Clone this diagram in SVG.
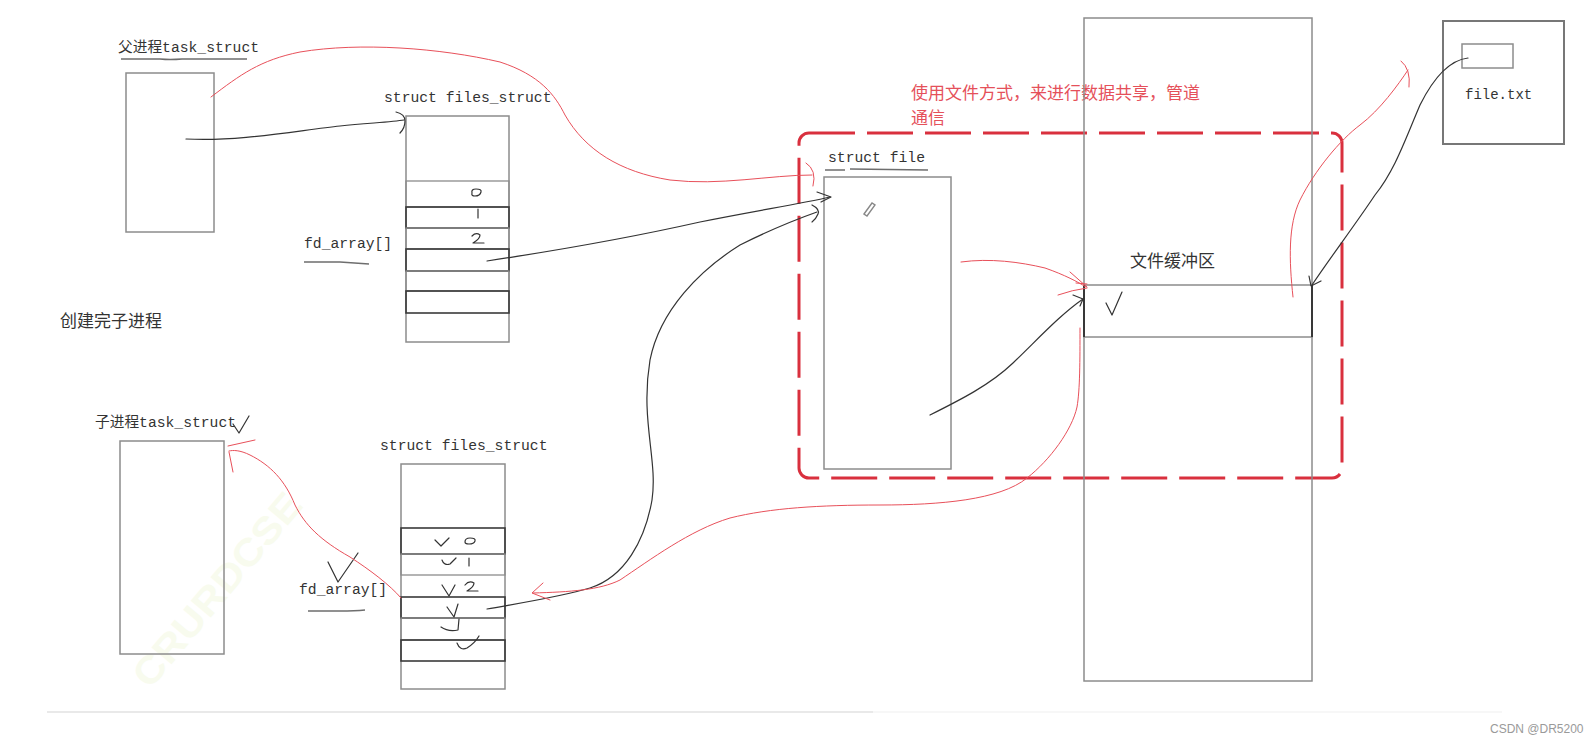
<svg xmlns="http://www.w3.org/2000/svg" width="1590" height="745" viewBox="0 0 1590 745">
<defs>
<style>
.bg{fill:#ffffff}
.box{fill:none;stroke:#8c8c8c;stroke-width:1.5}
.row{fill:none;stroke:#8c8c8c;stroke-width:1.3}
.rowd{fill:none;stroke:#3a3a3a;stroke-width:1.6}
.lbl{font-family:"Liberation Mono","Noto Sans CJK SC",monospace;font-size:14.7px;fill:#333}
.cjk{font-family:"Noto Sans CJK SC","Noto Sans",sans-serif;font-size:17px;fill:#333}
.note{font-family:"Noto Sans CJK SC","Noto Sans",sans-serif;font-size:17px;fill:#e5505a}
.ul{fill:none;stroke:#6e6e6e;stroke-width:1.4}
.hand{fill:none;stroke:#333;stroke-width:1.2;stroke-linecap:round;stroke-linejoin:round}
.blk{fill:none;stroke:#333;stroke-width:1.2;stroke-linecap:round;stroke-linejoin:round}
.red{fill:none;stroke:#e8505a;stroke-width:1;stroke-linecap:round;stroke-linejoin:round}
.dash{fill:none;stroke:#d9303e;stroke-width:3;stroke-dasharray:46 12}
</style>
</defs>
<rect class="bg" x="0" y="0" width="1590" height="745"/>

<text x="150" y="690" transform="rotate(-50 150 690)" font-family="Liberation Sans,sans-serif" font-size="38" font-weight="bold" fill="#f8fbee" textLength="240" lengthAdjust="spacingAndGlyphs">CRURDCSE</text>

<g id="parent-task">
<text class="lbl" x="118" y="52">父进程task_struct</text>
<path class="ul" d="M121,59 L160,59 Q170,60 182,59 L247,59"/>
<rect class="box" x="126" y="73" width="88" height="159"/>
</g>

<g id="parent-files">
<text class="lbl" x="384" y="102">struct files_struct</text>
<rect class="box" x="406" y="116" width="103" height="226"/>
<rect class="row" x="406" y="181" width="103" height="26"/>
<rect class="rowd" x="406" y="207" width="103" height="21"/>
<rect class="row" x="406" y="228" width="103" height="21"/>
<rect class="rowd" x="406" y="249" width="103" height="22"/>
<rect class="row" x="406" y="271" width="103" height="20"/>
<rect class="rowd" x="406" y="291" width="103" height="22"/>
<path class="hand" d="M472,193 Q471,189 476,189 Q482,189 481,192 Q480,196 475,196 Q471,196 472,193 Z"/>
<path class="hand" d="M478,209 L478,218"/>
<path class="hand" d="M472,236 Q476,232 480,235 Q480,239 473,243 L484,243"/>
<text class="lbl" x="304" y="248">fd_array[]</text>
<path class="ul" d="M304,262 L340,262 Q355,263 369,264"/>
</g>

<g id="note-fork">
<text class="cjk" x="60" y="327">创建完子进程</text>
</g>

<g id="child-task">
<text class="lbl" x="95" y="427">子进程task_struct</text>
<path class="hand" d="M233,424 L239,433 L249,416"/>
<rect class="box" x="120" y="441" width="104" height="213"/>
</g>

<g id="child-files">
<text class="lbl" x="380" y="450">struct files_struct</text>
<rect class="box" x="401" y="464" width="104" height="225"/>
<rect class="rowd" x="401" y="528" width="104" height="26"/>
<rect class="row" x="401" y="554" width="104" height="21"/>
<rect class="rowd" x="401" y="597" width="104" height="21"/>
<rect class="row" x="401" y="618" width="104" height="22"/>
<rect class="rowd" x="401" y="640" width="104" height="21"/>
<path class="hand" d="M465,542 Q465,538 470,538 Q476,538 475,541 Q474,544 469,544 Q465,544 465,542 Z"/>
<path class="hand" d="M469,558 L469,566"/>
<path class="hand" d="M465,585 Q469,580 474,583 Q474,587 467,591 L478,591"/>
<path class="hand" d="M435,540 L441,546 L449,538"/>
<path class="hand" d="M442,560 Q444,566 450,564 L456,558"/>
<path class="hand" d="M442,585 L449,596 L455,585"/>
<path class="hand" d="M447,607 L454,617 L458,604"/>
<path class="hand" d="M441,627 Q448,632 458,630 L459,619"/>
<path class="hand" d="M457,643 Q460,651 467,648 Q475,643 479,636"/>
<text class="lbl" x="299" y="594">fd_array[]</text>
<path class="hand" d="M328,562 L338,582 L358,553"/>
<path class="ul" d="M308,611 L340,611 Q355,611 365,610"/>
</g>

<g id="shared-region">
<rect class="dash" x="799" y="133" width="543" height="345" rx="10" ry="10"/>
<text class="note" x="911" y="99">使用文件方式，来进行数据共享，管道</text>
<text class="note" x="911" y="124">通信</text>
</g>

<g id="struct-file">
<text class="lbl" x="828" y="162">struct file</text>
<path class="ul" d="M825,170 L845,170 M850,169 L928,170"/>
<rect class="box" x="824" y="177" width="127" height="292"/>
<path d="M864,214 L872,203 L875,205 L867,216 Z" fill="none" stroke="#888" stroke-width="1.4"/>
</g>

<g id="kernel-buffer">
<rect class="box" x="1084" y="18" width="228" height="663"/>
<rect x="1084" y="285" width="228" height="52" fill="none" stroke="#8c8c8c" stroke-width="1.5"/>
<path d="M1084,285 L1084,337 M1312,285 L1312,337" stroke="#222" stroke-width="1.6" fill="none"/>
<text class="cjk" x="1130" y="267">文件缓冲区</text>
<path class="hand" d="M1106,303 L1112,315 L1122,292"/>
</g>

<g id="file-txt">
<rect x="1443" y="21" width="121" height="123" fill="none" stroke="#777" stroke-width="2"/>
<rect class="box" x="1462" y="44" width="51" height="24"/>
<text class="lbl" x="1465" y="99" style="font-size:14px">file.txt</text>
</g>

<g id="connectors">
<path class="blk" d="M186,139 C240,142 300,130 340,126 C370,123 392,122 404,120"/>
<path class="blk" d="M396,112 Q405,114 405,121 Q405,128 400,133"/>
<path class="blk" d="M487,261 C560,250 620,240 700,222 C760,210 800,204 830,197"/>
<path class="blk" d="M817,192 L831,197 L821,202"/>
<path class="blk" d="M487,609 C520,603 560,597 590,588 C625,577 645,540 652,500 C658,460 640,420 650,360 C660,310 700,270 740,245 C770,230 800,218 817,212"/>
<path class="blk" d="M812,205 Q820,209 818,214 Q816,219 812,222"/>
<path class="blk" d="M930,415 C960,400 990,385 1013,363 C1040,337 1060,315 1083,299"/>
<path class="blk" d="M1073,295 L1083,299 L1080,306"/>
<path class="blk" d="M1468,58 C1450,60 1435,75 1420,105 C1405,140 1395,170 1375,195 C1355,225 1330,258 1312,285"/>
<path class="blk" d="M1309,276 L1311,286 L1321,281"/>
<path class="red" d="M211,97 C240,75 260,60 300,52 C360,42 440,48 500,62 C540,75 555,95 565,115 C585,150 620,172 670,180 C720,186 770,175 812,175"/>
<path class="red" d="M806,163 Q817,170 813,186"/>
<path class="red" d="M961,262 C990,258 1020,262 1045,268 C1065,275 1078,282 1086,287"/>
<path class="red" d="M1070,272 L1087,287 M1076,283 L1087,284 M1058,295 Q1072,290 1087,288"/>
<path class="red" d="M1293,297 C1289,260 1288,225 1300,200 C1315,170 1340,140 1360,125 C1380,110 1398,85 1408,70"/>
<path class="red" d="M1401,61 Q1411,69 1409,87"/>
<path class="red" d="M1080,328 C1080,360 1080,390 1077,407 C1072,430 1050,460 1027,478 C1000,500 940,505 880,505 C820,505 770,508 730,518 C690,530 650,560 620,580 C600,590 570,592 533,593"/>
<path class="red" d="M543,583 L532,593 L550,600"/>
<path class="red" d="M401,598 C390,585 370,570 350,557 C320,540 305,525 295,505 C285,480 270,465 250,455 C240,450 233,450 229,451"/>
<path class="red" d="M255,440 L228,446 M229,452 L233,472"/>
</g>

<g id="footer">
<path d="M47,712 L873,712" stroke="#e2e2e2" stroke-width="1.5" fill="none"/>
<path d="M873,712 L1502,712" stroke="#f4f4f4" stroke-width="1.5" fill="none"/>
<text x="1490" y="733" font-family="Liberation Sans,sans-serif" font-size="12" fill="#9a9a9a">CSDN @DR5200</text>
</g>
</svg>
